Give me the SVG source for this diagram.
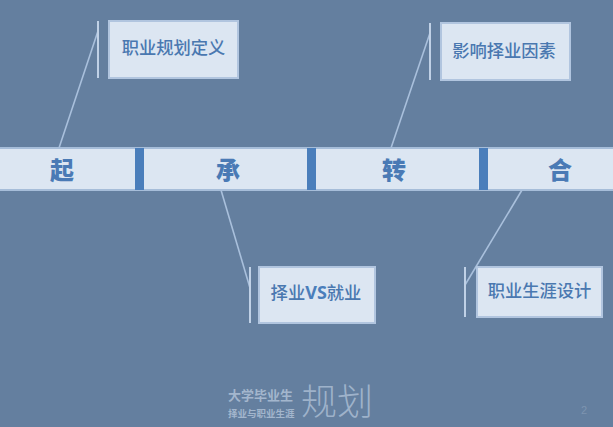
<svg xmlns="http://www.w3.org/2000/svg" width="613" height="427" viewBox="0 0 613 427">
<style>
.box{fill:#dce6f2;stroke:#b1c5df;stroke-width:2}
.band{fill:#dce6f2}
.edge{fill:none;stroke:#a9c0dc;stroke-width:1.6}
.bar{fill:none;stroke:#c0d1e6;stroke-width:2}
.sep{fill:#4a7ebb}
.lbl{font-family:"Noto Sans CJK SC","Liberation Sans",sans-serif;font-size:17.3px;fill:#4a78b0;text-anchor:middle;font-weight:500}
.head{font-family:"Noto Sans CJK SC","Liberation Sans",sans-serif;font-size:24px;font-weight:900;fill:#4a7ab5;text-anchor:middle}
.logo{font-family:"Noto Sans CJK SC",sans-serif;fill:#a3b6cd;font-weight:700}
</style>
<rect width="613" height="427" fill="#647f9f"/>
<g id="timeline">
<rect x="-2" y="148" width="617" height="42" class="band" stroke="#a6bdd9" stroke-width="2"/>
<rect x="135" y="148" width="9" height="42" class="sep"/>
<rect x="307" y="148" width="9" height="42" class="sep"/>
<rect x="479" y="148" width="9" height="42" class="sep"/>
<text x="62" y="179" class="head">起</text>
<text x="228" y="179" class="head">承</text>
<text x="394" y="179" class="head">转</text>
<text x="560" y="179" class="head">合</text>
</g>
<g id="connectors">
<path class="edge" d="M59 148L98 31"/>
<path class="bar" d="M98 21V78"/>
<path class="edge" d="M391 148L430 33"/>
<path class="bar" d="M430 23V80"/>
<path class="edge" d="M221 190L250 288"/>
<path class="bar" d="M250 267V323"/>
<path class="edge" d="M522 190L465 285"/>
<path class="bar" d="M465 267V317"/>
</g>
<g id="node-1"><rect x="109" y="21" width="129" height="57" class="box"/><text x="173.500" y="54" class="lbl">职业规划定义</text></g>
<g id="node-2"><rect x="441" y="23" width="129" height="57" class="box"/><text x="504" y="57" class="lbl">影响择业因素</text></g>
<g id="node-3"><rect x="259" y="267" width="116" height="56" class="box"/><text x="316" y="299" class="lbl">择业<tspan font-family="Open Sans,Liberation Sans,sans-serif" font-weight="700" fill="#4a7ebb" font-size="18">VS</tspan>就业</text></g>
<g id="node-4"><rect x="477" y="267" width="125" height="50" class="box"/><text x="539.500" y="297" class="lbl">职业生涯设计</text></g>
<g id="logo">
<text x="228" y="400" class="logo" font-size="13">大学毕业生</text>
<text x="228" y="417" class="logo" font-size="9.500" font-weight="500">择业与职业生涯</text>
<text x="301" y="415" font-family="Noto Sans CJK SC,sans-serif" font-weight="300" font-size="36" fill="#a9bcd2" opacity="0.85">规划</text>
</g>
<text id="page" x="584" y="414" font-family="Liberation Sans,sans-serif" font-size="11" fill="#7d94b0" text-anchor="middle">2</text>
</svg>
